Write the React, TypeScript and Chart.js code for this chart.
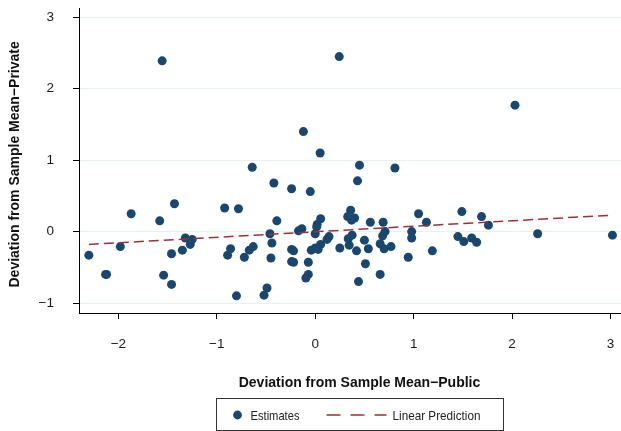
import React, { useEffect, useRef } from 'react';
import { Chart, registerables } from 'chart.js';

Chart.register(...registerables);

// Estimates (deviation from sample mean): public (x) vs private (y)
const estimatesX = [
  -2.30, -2.13, -2.12, -1.98, -1.87, -1.58, -1.555, -1.43, -1.54, -1.46,
  -1.46, -1.35, -1.32, -1.25, -1.27, -0.92, -0.78, -0.64, -0.42, -0.24,
  -0.05, -0.39, -0.17, -0.135, -0.89, -0.86, -0.72, -0.67, -0.63, -0.80,
  -0.52, -0.49, -0.46, -0.44, -0.45, -0.24, -0.22, -0.24, -0.22, -0.07,
  -0.07, -0.095, -0.12, 0.05, 0.244, 2.03, 0.45, 0.81, 0.43, 0.36,
  0.33, 0.40, 0.37, 0.055, 0.02, 0.015, 0.00, 0.56, 0.69, 1.05,
  1.13, 1.49, 1.69, 1.76, 2.26, 3.02, 0.98, 0.98, 1.45, 1.51,
  1.59, 1.64, 1.19, 0.945, 0.71, 0.685, 0.66, 0.70, 0.77, 0.50,
  0.54, 0.42, 0.335, 0.375, 0.345, 0.25, 0.14, 0.12, 0.055, 0.03,
  -0.04, 0.00, 0.51, 0.66, 0.44,
];
const estimatesY = [
  -0.33, -0.60, -0.60, -0.21, 0.25, 0.15, 2.39, 0.39, -0.61, -0.74,
  -0.31, -0.26, -0.09, -0.11, -0.18, 0.33, 0.32, 0.90, 0.68, 0.60,
  0.56, 0.15, 0.01, 0.04, -0.33, -0.24, -0.36, -0.26, -0.21, -0.90,
  -0.89, -0.79, -0.03, -0.16, -0.37, -0.25, -0.27, -0.42, -0.43, -0.43,
  -0.60, -0.65, 1.40, 1.10, 2.45, 1.77, 0.93, 0.89, 0.71, 0.30,
  0.21, 0.19, 0.16, 0.18, 0.10, 0.065, -0.03, 0.13, 0.13, 0.25,
  0.13, 0.28, 0.21, 0.09, -0.03, -0.05, 0.00, -0.09, -0.07, -0.14,
  -0.09, -0.15, -0.27, -0.36, 0.00, -0.06, -0.17, -0.24, -0.21, -0.12,
  -0.24, -0.27, -0.10, -0.05, -0.19, -0.23, -0.07, -0.11, -0.18, -0.25,
  -0.26, -0.23, -0.45, -0.60, -0.70,
];

// Linear prediction end points
const fitX = [-2.30, 3.02];
const fitY = [-0.18, 0.23];

const xTicks = [-2, -1, 0, 1, 2, 3];
const yTicks = [-1, 0, 1, 2, 3];

const xTitle = 'Deviation from Sample Mean\u2212Public';
const yTitle = 'Deviation from Sample Mean\u2212Private';
const legendLabels = ['Estimates', 'Linear Prediction'];

const NAVY = '#1a476f';
const MAROON = '#993339';
const GRID = '#e7eff2';
const FONT = '"Liberation Sans", Arial, Helvetica, sans-serif';

const fmt = (v: number) => (v < 0 ? '\u2212' + Math.abs(v) : String(v));

// draw text horizontally condensed to a target width (legend uses a narrow face)
function narrowText(ctx: CanvasRenderingContext2D, text: string, x: number, y: number, width: number) {
  const m = ctx.measureText(text).width;
  const s = Math.min(1, width / m);
  ctx.save();
  ctx.translate(x, y);
  ctx.scale(s, 1);
  ctx.fillText(text, 0, 0);
  ctx.restore();
}

const legendPlugin = {
  id: 'boxLegend',
  afterDraw(chart: any) {
    const { ctx, chartArea } = chart;
    const xs = chart.scales.x;
    const cx = (chartArea.left + chartArea.right) / 2;
    const w = 287;
    const h = 32;
    const left = Math.round(cx - w / 2) + 0.5;
    const top = Math.round(xs.bottom + 5) + 0.5;
    ctx.save();
    ctx.strokeStyle = '#333';
    ctx.lineWidth = 1;
    ctx.strokeRect(left, top, w, h);
    const my = top + 16.5;
    ctx.fillStyle = NAVY;
    ctx.beginPath();
    ctx.arc(left + 21, my, 4.4, 0, Math.PI * 2);
    ctx.fill();
    ctx.font = '13.5px ' + FONT;
    ctx.fillStyle = '#222';
    ctx.textBaseline = 'middle';
    ctx.textAlign = 'left';
    narrowText(ctx, legendLabels[0], left + 34, my + 1, 49);
    ctx.strokeStyle = MAROON;
    ctx.lineWidth = 1.5;
    ctx.setLineDash([14, 10]);
    ctx.beginPath();
    ctx.moveTo(left + 110, my);
    ctx.lineTo(left + 170, my);
    ctx.stroke();
    ctx.setLineDash([]);
    narrowText(ctx, legendLabels[1], left + 176, my + 1, 88);
    ctx.restore();
  },
};

export default function App() {
  const ref = useRef<HTMLCanvasElement | null>(null);

  useEffect(() => {
    if (!ref.current) return;
    const points = estimatesX.map((x, i) => ({ x, y: estimatesY[i] }));
    const fit = fitX.map((x, i) => ({ x, y: fitY[i] }));
    const chart = new Chart(ref.current, {
      type: 'scatter',
      data: {
        datasets: [
          {
            label: legendLabels[0],
            data: points,
            backgroundColor: NAVY,
            borderWidth: 0,
            pointRadius: 4.5,
            pointHoverRadius: 4.5,
            order: 1,
          },
          {
            label: legendLabels[1],
            type: 'line',
            data: fit,
            showLine: true,
            borderColor: MAROON,
            borderWidth: 1.5,
            borderDash: [10, 5],
            pointRadius: 0,
            fill: false,
            order: 0,
          } as any,
        ],
      },
      options: {
        animation: false,
        responsive: true,
        maintainAspectRatio: false,
        events: [],
        layout: { autoPadding: false, padding: { top: 8, left: 0, right: 0, bottom: 38 } },
        plugins: { legend: { display: false }, tooltip: { enabled: false } },
        scales: {
          x: {
            type: 'linear',
            min: -2.4,
            max: 3.3,
            afterBuildTicks: (s: any) => {
              s.ticks = xTicks.map((v) => ({ value: v }));
            },
            afterFit: (s: any) => {
              s.height = 80;
              s.paddingLeft = 0;
              s.paddingRight = 0;
            },
            ticks: {
              callback: (v: any) => fmt(Number(v)),
              font: { family: FONT, size: 13.5 },
              color: '#1a1a1a',
              padding: 17,
              maxRotation: 0,
              autoSkip: false,
            },
            grid: { drawOnChartArea: false, tickLength: 6, tickColor: '#000', tickWidth: 1 },
            border: { color: '#000', width: 1 },
            title: {
              display: true,
              text: xTitle,
              font: { family: FONT, size: 14, weight: 'bold' },
              color: '#111',
              padding: { top: 0, bottom: 1 },
            },
          },
          y: {
            type: 'linear',
            min: -1.14,
            max: 3.13,
            afterBuildTicks: (s: any) => {
              s.ticks = yTicks.map((v) => ({ value: v }));
            },
            afterFit: (s: any) => {
              s.width = 79;
              s.paddingTop = 0;
              s.paddingBottom = 0;
            },
            ticks: {
              callback: (v: any) => fmt(Number(v)),
              font: { family: FONT, size: 13.5 },
              color: '#1a1a1a',
              padding: 19,
              autoSkip: false,
            },
            grid: { color: GRID, lineWidth: 1, tickLength: 6, tickColor: '#000', tickWidth: 1 },
            border: { color: '#000', width: 1 },
            title: {
              display: true,
              text: yTitle + '  ',
              font: { family: FONT, size: 14, weight: 'bold' },
              color: '#111',
              padding: { top: 7, bottom: 0 },
            },
          },
        },
      } as any,
      plugins: [legendPlugin],
    });
    return () => chart.destroy();
  }, []);

  return (
    <div
      style={{
        position: 'fixed',
        left: 0,
        top: 0,
        width: 621,
        height: 431,
        overflow: 'hidden',
        background: '#fff',
      }}
    >
      <div style={{ position: 'relative', width: 640, height: 431 }}>
        <canvas ref={ref} />
      </div>
    </div>
  );
}
